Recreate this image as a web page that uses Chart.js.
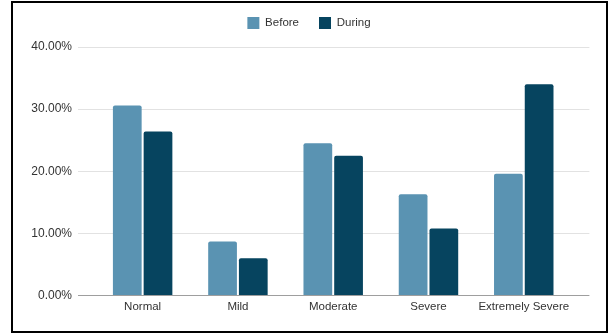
<!DOCTYPE html>
<html>
<head>
<meta charset="utf-8">
<script src="https://cdn.jsdelivr.net/npm/chart.js@4/dist/chart.umd.min.js"></script>
<style>
  html, body { margin: 0; padding: 0; background: #fff; }
  #wrap { position: relative; width: 608px; height: 333px; }
  #wrap canvas { position: absolute; left: 0; top: 0; }
  #frame {
    position: absolute; left: 11px; top: 1px; width: 597px; height: 332px;
    border: 2px solid #000; box-sizing: border-box; pointer-events: none;
  }
</style>
</head>
<body>
<div id="wrap">
  <canvas id="chart" width="608" height="333"></canvas>
  <div id="frame"></div>
</div>
<script>
// Share of respondents per severity level, in percent
const categories = ['Normal', 'Mild', 'Moderate', 'Severe', 'Extremely Severe'];
const beforeValues = [30.6, 8.7, 24.5, 16.3, 19.6];
const duringValues = [26.4, 6.0, 22.5, 10.8, 34.0];
const yTickValues = [0, 10, 20, 30, 40];

const FONT = '"Liberation Sans", Arial, Helvetica, sans-serif';
const TEXT = '#333333';
const GRID = '#e2e2e2';
const BASE = '#9e9e9e';

const gridColor = (ctx) => (ctx.tick && ctx.tick.value === 0 ? BASE : GRID);

// Adds a little room between the legend row and the plot
const legendSpacing = {
  id: 'legendSpacing',
  beforeLayout(chart) {
    const lg = chart.legend;
    if (lg && !lg._extraSpace) {
      const fit = lg.fit;
      lg.fit = function () { fit.call(this); this.height += 8; };
      lg._extraSpace = true;
    }
  }
};

new Chart(document.getElementById('chart'), {
  type: 'bar',
  data: {
    labels: categories,
    datasets: [
      {
        label: 'Before',
        data: beforeValues,
        backgroundColor: '#5a93b2',
        borderRadius: 2,
        categoryPercentage: 0.645,
        barPercentage: 0.935
      },
      {
        label: 'During',
        data: duringValues,
        backgroundColor: '#06445f',
        borderRadius: 2,
        categoryPercentage: 0.645,
        barPercentage: 0.935
      }
    ]
  },
  options: {
    responsive: false,
    animation: false,
    devicePixelRatio: 1,
    layout: { padding: { top: -3, left: 5, right: -5, bottom: 0 } },
    plugins: {
      tooltip: { enabled: false },
      legend: {
        position: 'top',
        labels: {
          boxWidth: 12,
          boxHeight: 12,
          padding: 20,
          color: TEXT,
          font: { family: FONT, size: 11.5 }
        }
      }
    },
    scales: {
      x: {
        grid: { display: false, drawTicks: false },
        border: { display: false },
        ticks: {
          color: TEXT,
          font: { family: FONT, size: 11.5 },
          padding: 4,
          maxRotation: 0,
          autoSkip: false
        },
        afterFit(s) { s.height = 37.5; }
      },
      y: {
        position: 'left',
        min: 0,
        max: 40,
        afterBuildTicks(s) { s.ticks = yTickValues.map(v => ({ value: v })); },
        grid: { color: gridColor, lineWidth: 1, tickLength: 17 },
        border: { display: false },
        ticks: {
          color: TEXT,
          font: { family: FONT, size: 12 },
          padding: 6,
          callback: (v) => Number(v).toFixed(2) + '%'
        },
        afterFit(s) { s.width = 90; }
      },
      yRight: {
        position: 'right',
        min: 0,
        max: 40,
        afterBuildTicks(s) { s.ticks = yTickValues.map(v => ({ value: v })); },
        grid: { color: gridColor, lineWidth: 1, tickLength: 18, drawOnChartArea: false },
        border: { display: false },
        ticks: { display: false },
        afterFit(s) { s.width = 41.6; }
      }
    }
  },
  plugins: [legendSpacing]
});
</script>
</body>
</html>
